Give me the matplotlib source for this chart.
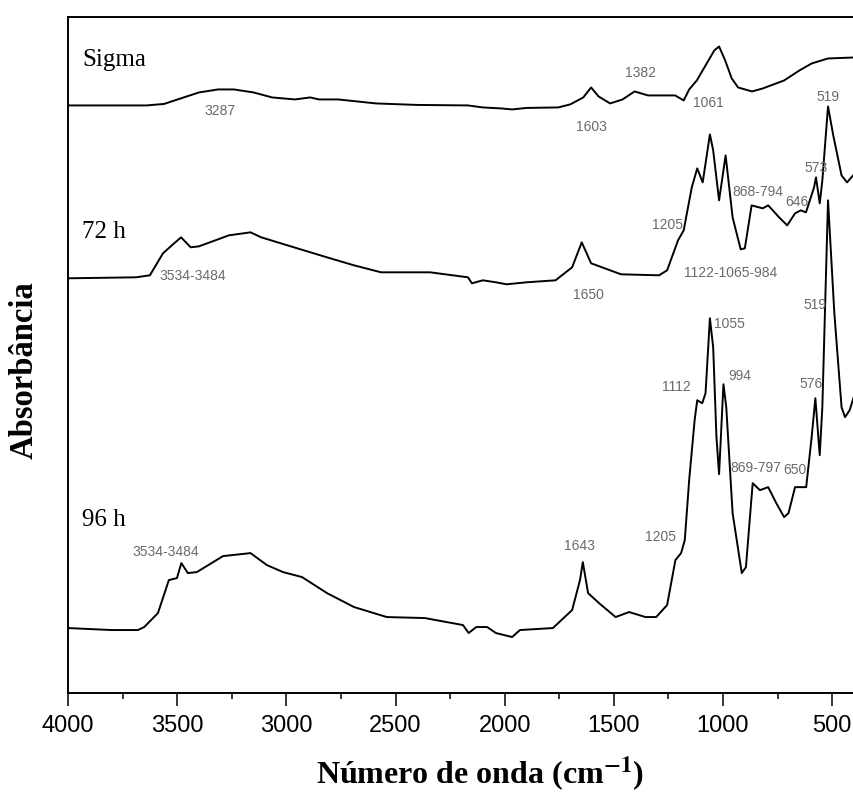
import numpy as np
import matplotlib
matplotlib.use("Agg")
import matplotlib.pyplot as plt
from matplotlib.ticker import MultipleLocator

# wavenumbers (cm-1) and absorbance (arbitrary units, spectra already stacked)
sigma_wn = [4000, 3640, 3560, 3470, 3400, 3313, 3240, 3150, 3065, 2960, 2891, 2850,
            2763, 2589, 2400, 2168, 2100, 2016, 1966, 1900, 1755, 1700, 1640, 1604,
            1570, 1517, 1460, 1405, 1343, 1219, 1180, 1155, 1120, 1080, 1040, 1018,
            990, 960, 931, 867, 818, 720, 650, 594, 519, 400]
sigma_abs = [588, 588, 589.5, 596, 601, 604, 604, 601, 596, 594, 596, 594,
             594, 590, 588.5, 588, 586, 585, 584, 585.5, 586, 589, 596, 606,
             597, 590, 594, 602, 598, 598, 593, 604, 613, 628, 643, 647,
             633, 615, 606, 602, 605, 613, 623, 630, 635, 636]

h72_wn = [4000, 3688, 3625, 3565, 3514, 3482, 3438, 3400, 3263, 3164, 3115, 2965,
          2814, 2690, 2566, 2342, 2168, 2150, 2100, 2040, 1991, 1900, 1767, 1691,
          1647, 1604, 1517, 1467, 1293, 1256, 1206, 1180, 1143, 1118, 1093, 1060,
          1045, 1018, 988, 956, 919, 900, 869, 818, 793, 743, 706, 670, 644, 620,
          583, 574, 557, 545, 519, 495, 457, 432, 400]
h72_abs = [415, 416, 418, 440, 450, 456, 446, 447, 458, 461, 456, 446,
           436, 428, 421, 421, 416, 410, 413, 411, 409, 411, 413, 426,
           451, 430, 423, 419, 418, 423, 453, 463, 506, 525, 511, 559,
           543, 493, 538, 476, 444, 445, 488, 485, 488, 476, 468, 480, 483, 481,
           506, 516, 490, 513, 587, 558, 518, 511, 519]

h96_wn = [4000, 3800, 3680, 3651, 3588, 3538, 3501, 3481, 3451, 3410, 3290, 3164,
          3089, 3015, 2928, 2814, 2690, 2540, 2366, 2191, 2165, 2130, 2080, 2040,
          1966, 1930, 1779, 1691, 1655, 1642, 1618, 1568, 1492, 1430, 1355, 1306,
          1256, 1218, 1192, 1175, 1155, 1130, 1118, 1095, 1080, 1060, 1045, 1030,
          1018, 998, 985, 956, 914, 895, 864, 831, 793, 756, 720, 700, 670, 619,
          594, 577, 557, 545, 519, 490, 457, 441, 420, 400]
h96_abs = [65, 63, 63, 66, 80, 113, 115, 130, 120, 121, 137, 140,
           128, 121, 116, 100, 86, 76, 75, 68, 60, 66, 66, 60,
           56, 63, 65, 83, 113, 131, 100, 90, 76, 81, 76, 76,
           88, 133, 140, 153, 213, 273, 293, 290, 300, 375, 346, 256,
           219, 309, 286, 180, 120, 126, 210, 203, 206, 190, 176, 180, 206, 206,
           256, 295, 238, 286, 493, 380, 286, 276, 283, 297]

series_names = ["Sigma", "72 h", "96 h"]
name_pos = [(3936, 633), (3936, 461), (3936, 173)]

# band assignments written on the chart
band_labels = ["3287", "1603", "1382", "1061", "519",
               "573", "868-794", "646", "1205", "1122-1065-984", "3534-3484", "1650",
               "519", "1055", "994", "1112", "576", "869-797", "650", "1205", "1643",
               "3534-3484"]
band_pos = [(3304, 582), (1604, 566), (1380, 620), (1068, 590), (519, 596),
            (574, 525), (839, 501), (661, 491), (1256, 468), (967, 420), (3427, 417),
            (1618, 398),
            (578, 388), (972, 369), (922, 317), (1215, 306), (596, 309), (852, 225),
            (672, 223), (1288, 156), (1659, 147), (3551, 141)]

plt.rcParams['mathtext.fontset'] = 'stix'

fig = plt.figure(figsize=(8.54, 7.94), dpi=100)
ax = fig.add_axes([68 / 854, 101 / 794, 1 - 68 / 854, 676.5 / 794])

for wn, ab in [(sigma_wn, sigma_abs), (h72_wn, h72_abs), (h96_wn, h96_abs)]:
    ax.plot(wn, ab, color='black', lw=1.4)

for name, (x, y) in zip(series_names, name_pos):
    ax.text(x, y, name, family='Liberation Serif', fontsize=18, ha='left', va='center')

for lab, (x, y) in zip(band_labels, band_pos):
    ax.text(x, y, lab, family='Liberation Sans', fontsize=10, color='#6a6a6a',
            ha='center', va='center')

ax.set_xlim(4000, 400)
ax.set_ylim(0, 677)
ax.xaxis.set_major_locator(MultipleLocator(500))
ax.xaxis.set_minor_locator(MultipleLocator(250))
ax.set_yticks([])
ax.tick_params(axis='x', which='major', direction='out', length=9.5, width=1.1, pad=6)
ax.tick_params(axis='x', which='minor', direction='out', length=4.5, width=1.1)
for lbl in ax.get_xticklabels():
    lbl.set_family('Liberation Sans')
    lbl.set_fontsize(17)
for s in ['left', 'top', 'bottom']:
    ax.spines[s].set_linewidth(1.4)
ax.spines['right'].set_visible(False)

fig.text(480 / 854, 1 - 774 / 794, r'Número de onda (cm$^{\mathbf{-1}}$)',
         family='Liberation Serif', fontweight='bold', fontsize=23,
         ha='center', va='center')
fig.text(24 / 854, 1 - 370 / 794, 'Absorbância', family='Liberation Serif',
         fontweight='bold', fontsize=23.5, rotation=90, ha='center', va='center')

fig.savefig('out.png', dpi=100)
